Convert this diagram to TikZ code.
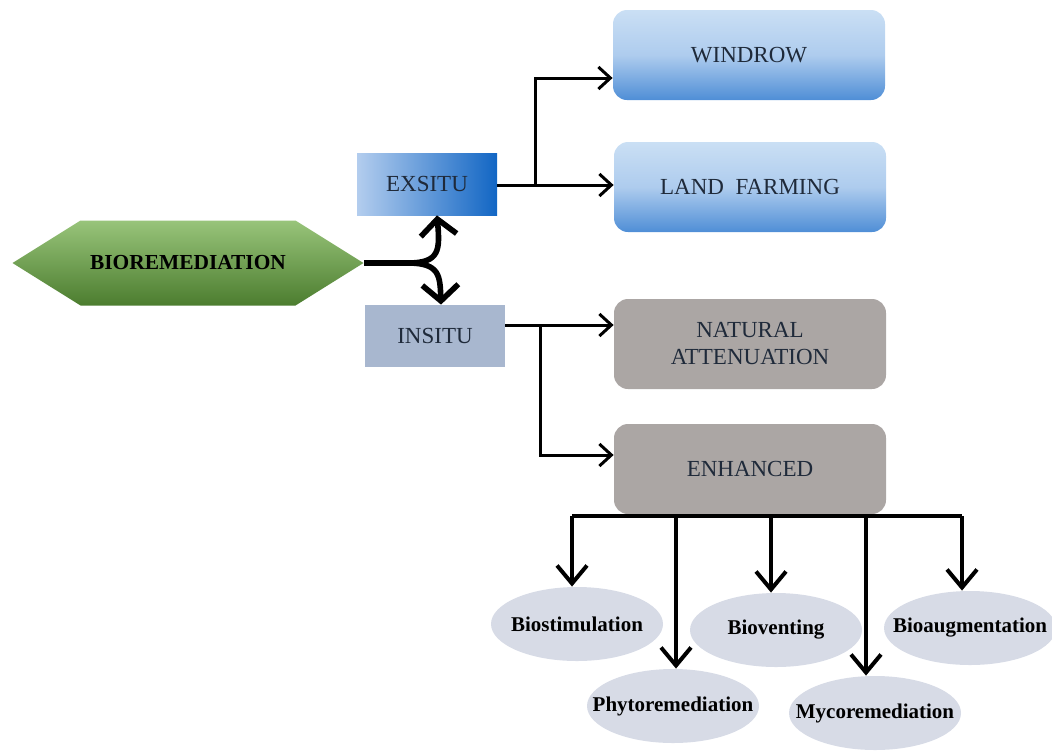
\documentclass[tikz,border=0pt]{standalone}
\usepackage{fontspec}
\setmainfont{Liberation Serif}
\usetikzlibrary{positioning,arrows.meta,shapes.symbols,shapes.geometric}

\definecolor{hexTop}{HTML}{98C47A}
\definecolor{hexBot}{HTML}{4C7D2F}
\definecolor{exLeft}{HTML}{B3CDEE}
\definecolor{exRight}{HTML}{1266C4}
\definecolor{inFill}{HTML}{A8B7CF}
\definecolor{blTop}{HTML}{CADFF4}
\definecolor{blMid}{HTML}{AECCEE}
\definecolor{blBot}{HTML}{4F8ED6}
\definecolor{grFill}{HTML}{ABA6A4}
\definecolor{elFill}{HTML}{D7DBE6}
\definecolor{txtDark}{HTML}{1F2A3A}

\newcommand\mlabel[1]{\makebox[56pt]{#1}}

\begin{document}
\begin{tikzpicture}[x=0.5pt,y=-0.5pt,
  hexa/.style={signal,signal to=east and west,signal pointer angle=64,
    top color=hexTop,bottom color=hexBot,minimum width=175.5pt,minimum height=42.5pt,
    font=\bfseries\fontsize{10.7}{12}\selectfont,inner sep=0pt},
  situ/.style={minimum width=70pt,minimum height=31pt,text=txtDark,font=\fontsize{11.5}{13}\selectfont},
  bluebox/.style={rounded corners=7pt,top color=blTop,bottom color=blBot,middle color=blMid,
    minimum width=136pt,minimum height=45pt,text=txtDark,font=\fontsize{11.5}{13}\selectfont},
  graybox/.style={rounded corners=7pt,fill=grFill,minimum width=136pt,minimum height=45pt,
    text=txtDark,font=\fontsize{11.5}{13.5}\selectfont,align=center},
  method/.style={ellipse,fill=elFill,minimum width=86pt,minimum height=37pt,inner sep=0pt,
    font=\bfseries\fontsize{10.5}{12}\selectfont},
  link/.style={line width=1.5pt,-{Straight Barb[length=6pt,width=11pt]}},
  forkarrow/.style={line width=2.8pt,-{Straight Barb[length=8pt,width=18pt]}},
  drop/.style={line width=2pt,-{Straight Barb[length=9pt,width=15pt]}}]
  \useasboundingbox (0,0) rectangle (1052,750);

  % main blocks
  \node[hexa] (bio) at (188,263) {BIOREMEDIATION};
  \node[situ,left color=exLeft,right color=exRight] (ex) at (427,184) {EXSITU};
  \node[situ,fill=inFill] (in) at (435,336) {INSITU};
  \node[bluebox] (wind) at (749,55) {WINDROW};
  \node[bluebox] (land) at (750,187) {LAND\ \ FARMING};
  \node[graybox] (nat) at (750,344) {NATURAL\\ATTENUATION};
  \node[graybox] (enh) at (750,469) {ENHANCED};

  % enhanced methods
  \node[method] (stim) at (577,624) {\mlabel{Biostimulation}};
  \node[method] (phyto) at (673,706) {\mlabel{Phytoremediation}};
  \node[method] (vent) at (776,630) {\mlabel{Bioventing}};
  \node[method] (myco) at (875,713) {\mlabel{Mycoremediation}};
  \node[method] (aug) at (970,628) {\mlabel{Bioaugmentation}};

  % fork from bioremediation
  \coordinate (fk) at (408,263);
  \draw[line width=2.8pt] (bio.east) -- (fk);
  \draw[forkarrow] (fk) .. controls (440,263) and (440,250) .. ([xshift=5pt]ex.south);
  \draw[forkarrow] (fk) .. controls (440,263) and (440,276) .. ([xshift=3pt]in.north);

  % exsitu branches
  \coordinate (jex) at (535,185);
  \draw[link] (ex.east |- jex) -- (land.west |- jex);
  \draw[link] (jex) |- ([yshift=-11.5pt]wind.west);

  % insitu branches
  \coordinate (jin) at (540,325);
  \draw[link] (in.east |- jin) -- (nat.west |- jin);
  \draw[link] (jin) |- ([yshift=7pt]enh.west);

  % bus below enhanced
  \coordinate (b1) at (572,516); \coordinate (b2) at (676,516); \coordinate (b3) at (771,516);
  \coordinate (b4) at (866,516); \coordinate (b5) at (962,516);
  \draw[line width=2pt] (b1) -- (b5);
  \draw[drop] (b1) -- (b1 |- stim.north);
  \draw[drop] (b2) -- (b2 |- phyto.north);
  \draw[drop] (b3) -- (b3 |- vent.north);
  \draw[drop] (b4) -- (b4 |- myco.north);
  \draw[drop] (b5) -- (b5 |- aug.north);
\end{tikzpicture}
\end{document}
